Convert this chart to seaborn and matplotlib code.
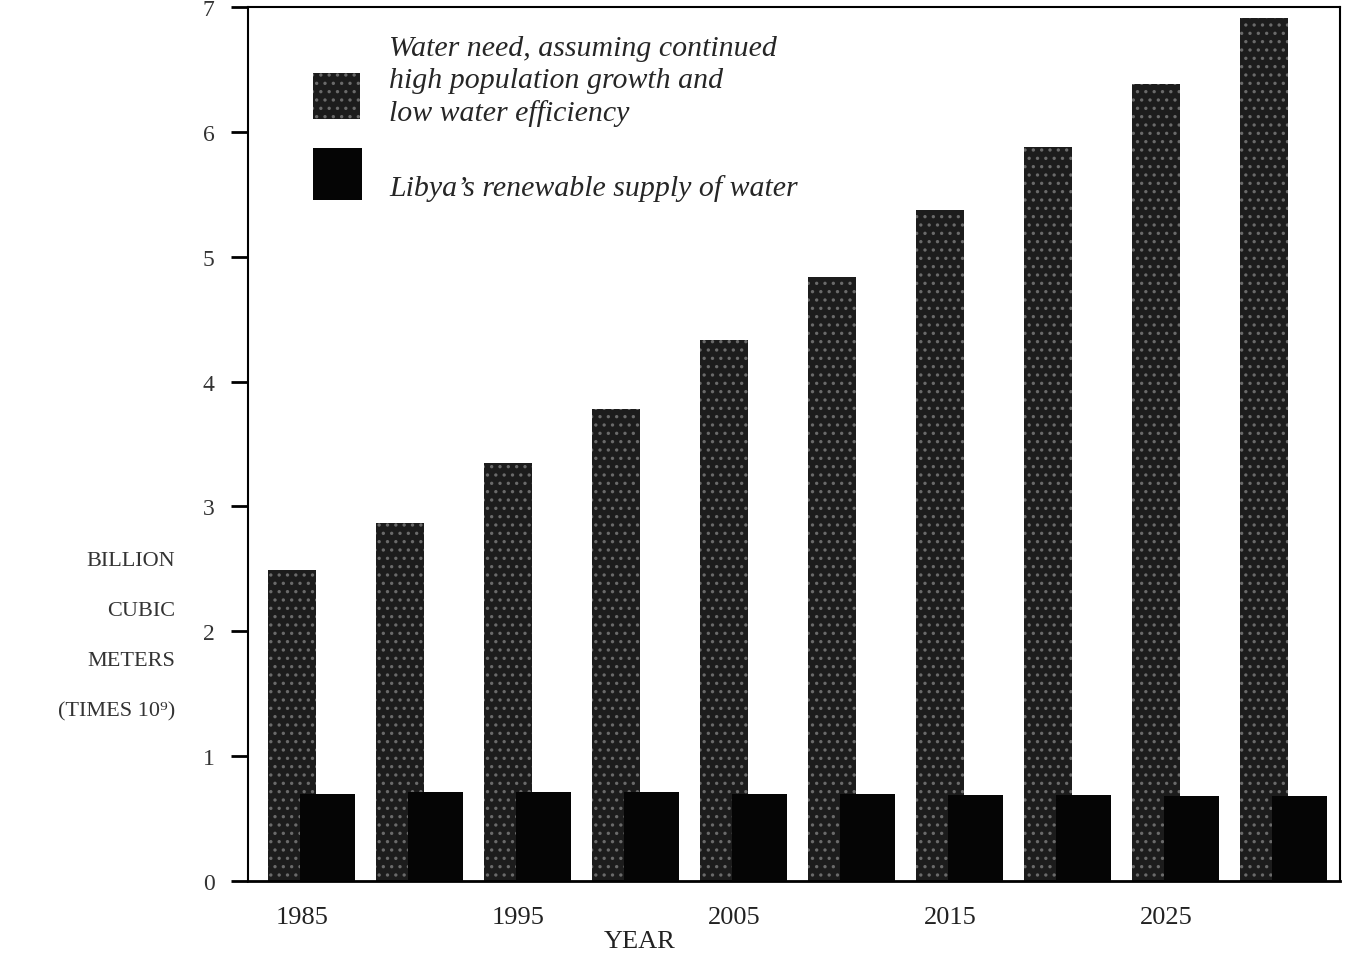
import numpy as np
import matplotlib
matplotlib.use("Agg")
import matplotlib.pyplot as plt
import seaborn as sns
import pandas as pd
from matplotlib.patches import Rectangle

years = [1985, 1990, 1995, 2000, 2005, 2010, 2015, 2020, 2025, 2030]
need = [2.49, 2.87, 3.35, 3.78, 4.33, 4.84, 5.37, 5.88, 6.38, 6.91]
supply = [0.70, 0.71, 0.71, 0.71, 0.70, 0.70, 0.69, 0.69, 0.68, 0.68]
tick_years = [1985, 1995, 2005, 2015, 2025]
need_label = "Water need, assuming continued\nhigh population growth and\nlow water efficiency"
supply_label = "Libya\u2019s renewable supply of water"

df = pd.DataFrame({"year": years, "need": need, "supply": supply})
df["need_x"] = df["year"] - 0.46
df["supply_x"] = df["year"] + 1.18

sns.set_style("white")
plt.rcParams["font.family"] = ["Liberation Serif", "DejaVu Serif"]
plt.rcParams["hatch.linewidth"] = 1.2

fig = plt.figure(figsize=(13.46, 9.62), dpi=100)
ax = fig.add_axes([0.1843, 0.0832, 0.8112, 0.9085])

need_color = "#1c1c1c"
supply_color = "#050505"

sns.barplot(data=df, x="need_x", y="need", native_scale=True, width=2.22 / 5,
            color=need_color, saturation=1, ax=ax, zorder=2,
            edgecolor="#6a6a6a", linewidth=0, hatch="..")
sns.barplot(data=df, x="supply_x", y="supply", native_scale=True, width=2.55 / 5,
            color=supply_color, saturation=1, ax=ax, zorder=3, linewidth=0)

ax.set_xlim(1982.5, 2033.05)
ax.set_ylim(0, 7)
ax.set_xticks(tick_years)
ax.set_xticklabels([str(y) for y in tick_years])
ax.set_yticks(range(0, 8))
ax.tick_params(axis="x", length=0, labelsize=19, pad=18, colors="#222222")
ax.tick_params(axis="y", length=12, width=2, direction="out", left=True,
               labelsize=17, pad=12, colors="#333333")
ax.tick_params(axis="y", color="black")
for side in ["left", "bottom", "top", "right"]:
    ax.spines[side].set_visible(True)
    ax.spines[side].set_color("black")
ax.spines["left"].set_linewidth(1.5)
ax.spines["bottom"].set_linewidth(2)
ax.spines["top"].set_linewidth(1.5)
ax.spines["right"].set_linewidth(1.5)

ax.set_xlabel("YEAR", fontsize=19, color="#222222")
ax.xaxis.set_label_coords(0.359, -0.056)
ax.set_ylabel("")

# y label block, small caps style
ylab = ["BILLION", "CUBIC", "METERS", "(TIMES 10\u2079)"]
for i, t in enumerate(ylab):
    fig.text(175 / 1346, 1 - (562 + i * 50) / 962, t, ha="right", va="center",
             fontsize=16, color="#333333")

# legend
ax.add_patch(Rectangle((0.0596, 0.872), 0.043, 0.052, transform=ax.transAxes,
                       facecolor=need_color, edgecolor="#6a6a6a", linewidth=0,
                       hatch="..", clip_on=False))
ax.add_patch(Rectangle((0.0596, 0.779), 0.045, 0.060, transform=ax.transAxes,
                       facecolor=supply_color, linewidth=0, clip_on=False))
ax.text(0.129, 0.916, need_label, transform=ax.transAxes, ha="left", va="center",
        fontsize=21.5, style="italic", linespacing=1.3)
ax.text(0.129, 0.794, supply_label, transform=ax.transAxes, ha="left", va="center",
        fontsize=21.5, style="italic")

fig.savefig("out.png", dpi=100)
